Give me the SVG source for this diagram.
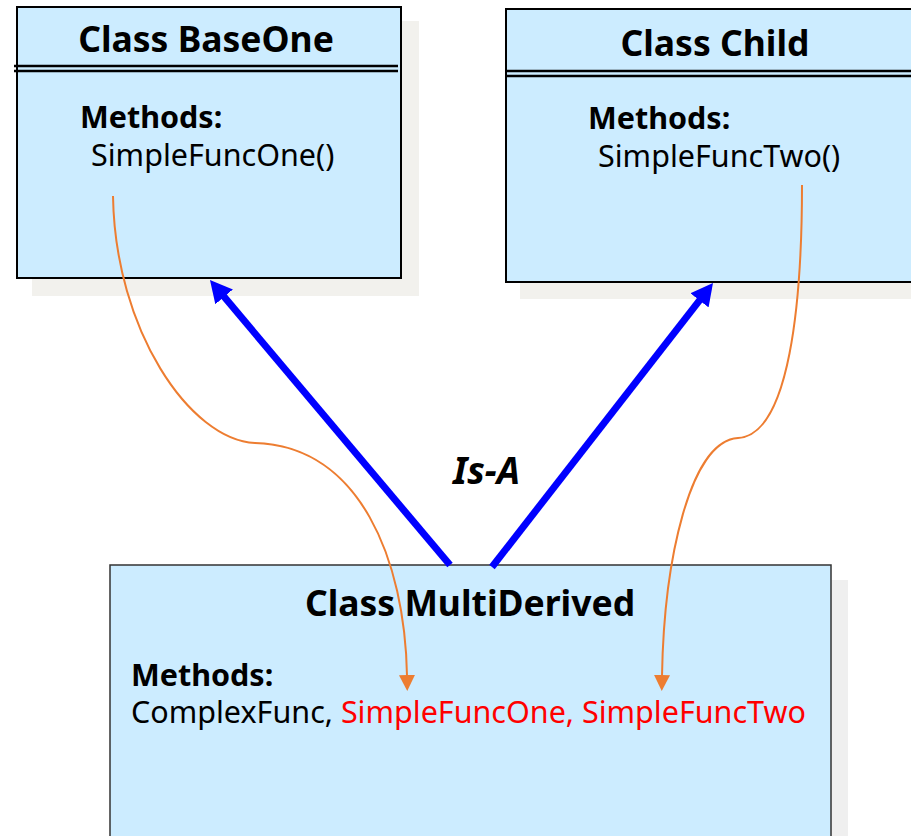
<svg xmlns="http://www.w3.org/2000/svg" width="911" height="836" viewBox="0 0 911 836">
  <style>
    .shadow { fill: #f2f1ed; }
    .shadow2 { fill: #efefef; }
    .box { fill: #ccecff; stroke: #000; stroke-width: 2; }
    .sep { stroke: #000; stroke-width: 2.5; fill: none; }
    .title { font-family: "Noto Sans", "Open Sans", sans-serif; font-weight: bold; font-size: 35.5px; fill: #000; }
    .label { font-family: "Noto Sans", "Open Sans", sans-serif; font-weight: bold; font-size: 30.5px; fill: #000; }
    .method { font-family: "Noto Sans", "Open Sans", sans-serif; font-size: 30.5px; fill: #000; }
    .red { fill: #ff0000; }
    .isa { stroke: #0000ff; stroke-width: 7; fill: none; marker-end: url(#blueHead); }
    .flow { stroke: #ed7d31; stroke-width: 2; fill: none; marker-end: url(#orangeHead); }
    .rel { font-family: "Noto Sans", "Open Sans", sans-serif; font-weight: bold; font-style: italic; font-size: 37px; fill: #000; }
  </style>
  <defs>
    <marker id="blueHead" markerUnits="userSpaceOnUse" viewBox="-1 -12 24 24" refX="0" refY="0" markerWidth="24" markerHeight="24" orient="auto">
      <path d="M-1,-11.5 L21,0 L-1,11.5 Z" fill="#0000ff"/>
    </marker>
    <marker id="orangeHead" markerUnits="userSpaceOnUse" viewBox="-1 -9 17 18" refX="0" refY="0" markerWidth="17" markerHeight="18" orient="auto">
      <path d="M-1,-8 L15,0 L-1,8 Z" fill="#ed7d31"/>
    </marker>
  </defs>

  <!-- Class BaseOne -->
  <g id="base-one">
    <rect class="shadow" x="32" y="21" width="387" height="275"/>
    <rect class="box" x="17" y="7" width="384" height="271"/>
    <line class="sep" x1="14" y1="66" x2="398" y2="66"/>
    <line class="sep" x1="14" y1="71" x2="398" y2="71"/>
    <text class="title" x="206" y="52" text-anchor="middle">Class BaseOne</text>
    <text class="label" x="80" y="128">Methods:</text>
    <text class="method" x="91" y="166">SimpleFuncOne()</text>
  </g>

  <!-- Class Child -->
  <g id="child">
    <rect class="shadow" x="520" y="24" width="400" height="275"/>
    <rect class="box" x="506" y="9" width="420" height="273"/>
    <line class="sep" x1="506" y1="71" x2="920" y2="71"/>
    <line class="sep" x1="506" y1="76" x2="920" y2="76"/>
    <text class="title" x="715" y="56" text-anchor="middle">Class Child</text>
    <text class="label" x="588" y="129">Methods:</text>
    <text class="method" x="598" y="167">SimpleFuncTwo()</text>
  </g>

  <!-- Class MultiDerived -->
  <g id="multi-derived">
    <rect class="shadow2" x="125" y="580" width="723" height="270"/>
    <rect class="box" x="110" y="565" width="721" height="285" style="stroke:#333;stroke-width:1.5"/>
    <text class="title" x="470" y="616" text-anchor="middle">Class MultiDerived</text>
    <text class="label" x="131" y="686">Methods:</text>
    <text class="method" x="131" y="723">ComplexFunc, <tspan class="red">SimpleFuncOne, SimpleFuncTwo</tspan></text>
  </g>

  <!-- Connectors -->
  <g id="connectors">
    <path class="isa" d="M450,565 L223.5,296.1"/>
    <path class="isa" d="M492,567 L700.1,299.6"/>
    <path class="flow" d="M113,196 C115,330 190,440 255,443 C360,446 405,560 407,676"/>
    <path class="flow" d="M802,185 C802,300 790,435 738,438 C690,441 664,560 662,676"/>
    <text class="rel" x="453" y="484">Is-A</text>
  </g>
</svg>
